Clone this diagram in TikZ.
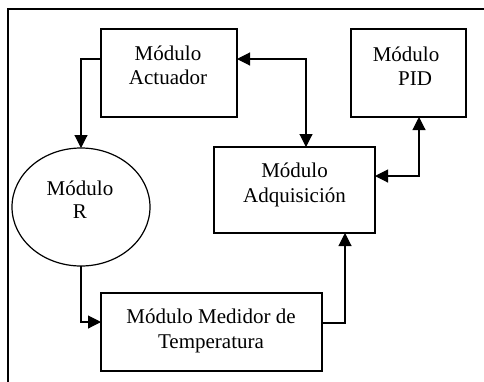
\documentclass[tikz,border=0pt]{standalone}
\usepackage{fontspec}
\setmainfont{Liberation Serif}
\usetikzlibrary{arrows.meta,shapes.geometric}
\begin{document}
\begin{tikzpicture}[x=1bp,y=-1bp,
  box/.style={draw, line width=1.2bp, inner sep=0pt, outer sep=0pt},
  lbl/.style={align=center, inner sep=0pt, font=\fontsize{21bp}{#1}\selectfont},
  lbl/.default={24bp},
  conn/.style={line width=1.1bp},
  arr/.style={conn, -{Triangle[length=13bp,width=13bp]}},
  dbl/.style={conn, {Triangle[length=13bp,width=13bp]}-{Triangle[length=13bp,width=13bp]}}]
\useasboundingbox (0,0) rectangle (484,381);
% frame
\coordinate (fbl) at (8,395);
\coordinate (ftl) at (8,9);
\coordinate (ftr) at (495,9);
\draw[line width=1.2bp] (fbl) -- (ftl) -- (ftr);
% boxes
\node[box, minimum width=136bp, minimum height=88bp] (act) at (169,73) {};
\node[box, minimum width=115bp, minimum height=88bp] (pid) at (408.5,73) {};
\node[box, minimum width=161bp, minimum height=86bp] (adq) at (294.5,190) {};
\node[box, minimum width=221bp, minimum height=78bp] (temp) at (211.5,332) {};
\node[box, ellipse, minimum width=138bp, minimum height=118bp] (R) at (81,207) {};
% texts
\node[lbl] (actT) at (168,65.75) {Módulo\\Actuador};
\node[lbl] (pidT) at (406,65.75) {Módulo\\\hspace*{18bp}PID};
\node[lbl=23bp] (RT) at (80,199.25) {Módulo\\R};
\node[lbl=25bp] (adqT) at (294.5,184.5) {Módulo\\Adquisición};
\node[lbl=25bp] (tempT) at (211,330.5) {Módulo Medidor de\\Temperatura};
% connectors
\draw[arr] ([yshift=-30bp]act.north west) -| (R.north);
\draw[dbl] ([yshift=-30bp]act.north east) -| ([xshift=11.5bp]adq.north);
\draw[dbl] ([xshift=10.5bp]pid.south) |- ([yshift=14bp]adq.east);
\draw[arr] (R.south) |- ([yshift=10bp]temp.west);
\draw[arr] ([yshift=9bp]temp.east) -| ([xshift=50.5bp]adq.south);
\end{tikzpicture}
\end{document}
